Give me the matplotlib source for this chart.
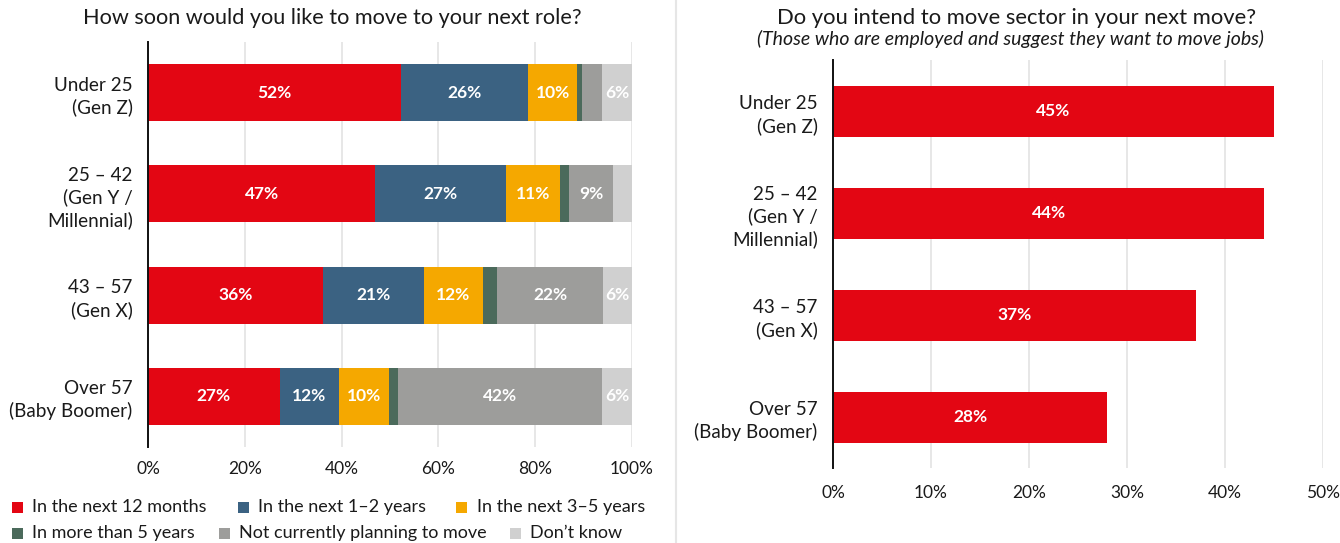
import matplotlib
matplotlib.use("Agg")
import matplotlib.pyplot as plt
from matplotlib.patches import Rectangle
from matplotlib.lines import Line2D
import numpy as np

plt.rcParams['font.family'] = ['Lato', 'DejaVu Sans']

# ---- data ----
groups = ["Under 25\n(Gen Z)", "25 – 42\n(Gen Y /\nMillennial)", "43 – 57\n(Gen X)",
          "Over 57\n(Baby Boomer)"]

timing_labels = ["In the next 12 months", "In the next 1–2 years", "In the next 3–5 years",
                 "In more than 5 years", "Not currently planning to move", "Don’t know"]
next_12_months = [52.3, 47.0, 36.1, 27.2]
next_1_2_years = [26.3, 27.0, 20.9, 12.2]
next_3_5_years = [10.1, 11.1, 12.2, 10.4]
more_than_5_years = [1.0, 1.9, 2.9, 1.9]
not_planning = [4.2, 9.1, 22.0, 42.2]
dont_know = [6.1, 3.9, 5.9, 6.1]

move_sector = [45, 44, 37, 28]

left_ticks = [0, 20, 40, 60, 80, 100]
right_ticks = [0, 10, 20, 30, 40, 50]

# ---- styling ----
colors = ["#E30613", "#3B6282", "#F5A800", "#4B6A5B", "#9D9D9B", "#D0D0D0"]
grid_color = "#E3E3E3"
text_color = "#1A1A1A"

W, H = 1340, 543
fig = plt.figure(figsize=(W / 100, H / 100), dpi=100)


def fig_box(x0, y0, x1, y1):
    """Pixel box (top-left origin) -> figure fraction rect."""
    return [x0 / W, 1 - y1 / H, (x1 - x0) / W, (y1 - y0) / H]


def style_axis(ax, ticks, xmax):
    ax.set_xlim(0, xmax)
    ax.set_ylim(len(groups) - 0.5, -0.5)
    ax.set_xticks(ticks)
    ax.set_xticklabels([f"{t}%" for t in ticks], fontsize=12.5, color=text_color)
    ax.set_yticks(range(len(groups)))
    ax.set_yticklabels(groups, fontsize=13.6, color=text_color, linespacing=1.33)
    ax.tick_params(axis='both', length=0)
    ax.tick_params(axis='y', pad=11)
    for s in ["top", "right", "bottom"]:
        ax.spines[s].set_visible(False)
    ax.spines["left"].set_color("#111111")
    ax.spines["left"].set_linewidth(1.4)
    ax.set_axisbelow(True)
    ax.grid(axis='x', color=grid_color, linewidth=1.2)
    ax.grid(axis='y', visible=False)


# ---- left: stacked bars ----
axL = fig.add_axes(fig_box(148, 42, 632, 447))
series = [next_12_months, next_1_2_years, next_3_5_years, more_than_5_years,
          not_planning, dont_know]
y = np.arange(len(groups))
left = np.zeros(len(groups))
for vals, col in zip(series, colors):
    vals = np.array(vals)
    axL.barh(y, vals, left=left, height=0.565, color=col, linewidth=0)
    for yi, (l, v) in enumerate(zip(left, vals)):
        if v >= 5:
            axL.text(l + v / 2, yi, f"{round(v)}%", ha='center', va='center',
                     color='white', fontsize=12.5, fontweight='bold')
    left += vals
style_axis(axL, left_ticks, 100)
axL.tick_params(axis='x', pad=10)

# ---- right: single bars ----
axR = fig.add_axes(fig_box(833, 60, 1323, 468))
axR.barh(y, move_sector, height=0.5, color=colors[0], linewidth=0)
for yi, v in enumerate(move_sector):
    axR.text(v / 2, yi, f"{v}%", ha='center', va='center', color='white',
             fontsize=12.5, fontweight='bold')
style_axis(axR, right_ticks, 50)
axR.tick_params(axis='x', pad=12)

# ---- titles ----
fig.text(332 / W, 1 - 18 / H, "How soon would you like to move to your next role?",
         ha='center', va='center', fontsize=15.6, color=text_color)
fig.text(1017 / W, 1 - 18 / H, "Do you intend to move sector in your next move?",
         ha='center', va='center', fontsize=15.8, color=text_color)
fig.text(1010 / W, 1 - 39 / H, "(Those who are employed and suggest they want to move jobs)",
         ha='center', va='center', fontsize=14, style='italic', color=text_color)

# ---- divider ----
fig.add_artist(Line2D([676 / W, 676 / W], [0, 1], color="#E6E6E6", linewidth=1.5,
                      transform=fig.transFigure))

# ---- legend (two flowing rows) ----
renderer = fig.canvas.get_renderer()
rows = [[0, 1, 2], [3, 4, 5]]
row_y = [507, 533]
row_gap = [31, 24]
sq = 11
for r, idxs in enumerate(rows):
    x = 12
    yc = row_y[r]
    for i in idxs:
        fig.add_artist(Rectangle((x / W, 1 - (yc + sq / 2) / H), sq / W, sq / H,
                                 color=colors[i], transform=fig.transFigure, linewidth=0))
        t = fig.text((x + sq + 9) / W, 1 - yc / H, timing_labels[i], ha='left', va='center',
                     fontsize=13.0, color=text_color)
        bb = t.get_window_extent(renderer=renderer)
        x = bb.x1 + row_gap[r]

fig.savefig("out.png", dpi=100)
